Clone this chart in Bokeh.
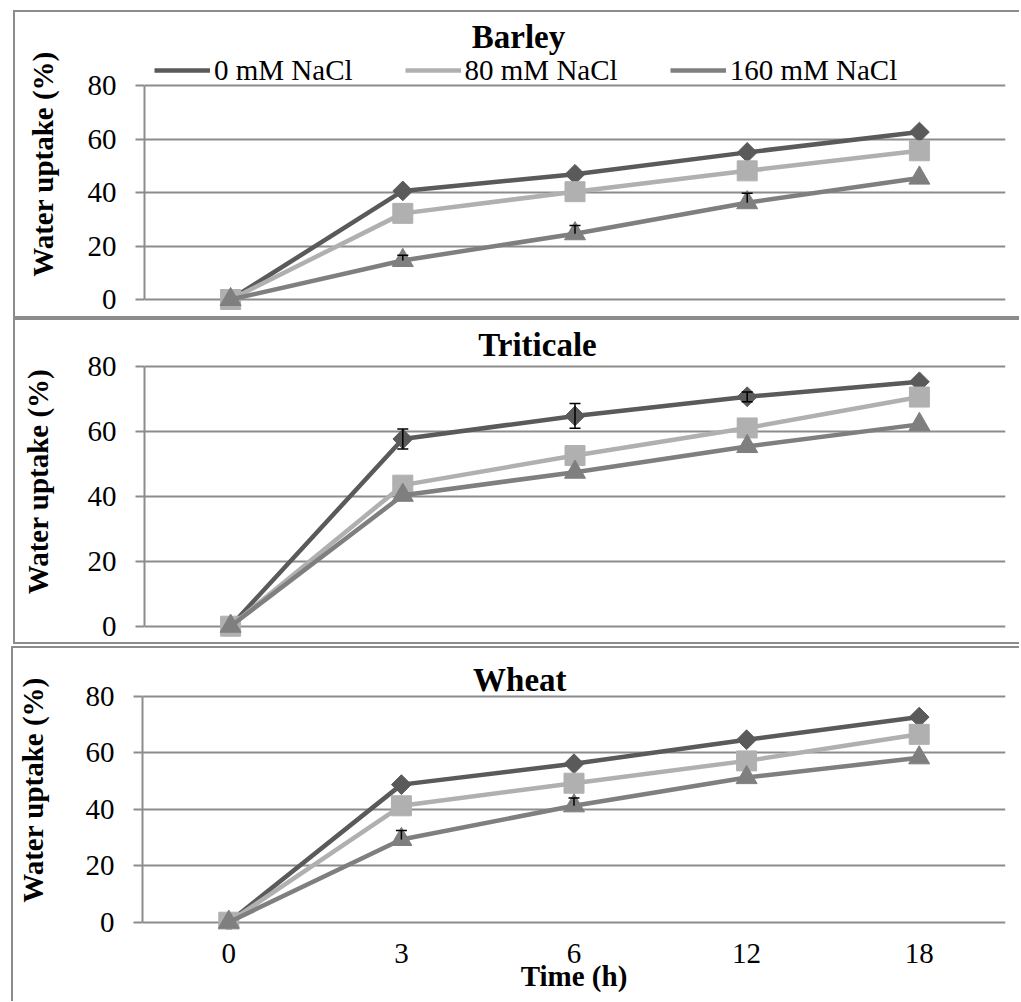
import numpy as np
from bokeh.plotting import figure
from bokeh.models import (Range1d, FixedTicker, Legend, LegendItem, Label,
                          ColumnDataSource, Whisker, TeeHead)
from bokeh.layouts import column
from bokeh.embed import file_html
from bokeh.resources import INLINE

# ---------------- data ----------------
times = ["0", "3", "6", "12", "18"]
series_names = ["0 mM NaCl", "80 mM NaCl", "160 mM NaCl"]

barley_0 = [0, 40.6, 46.8, 55.0, 62.6]
barley_80 = [0, 32.2, 40.3, 48.1, 55.6]
barley_160 = [0, 14.6, 24.6, 36.2, 45.4]
barley_err160 = [0, 1.9, 3.1, 3.5, 0]

triticale_0 = [0, 57.6, 64.7, 70.6, 75.2]
triticale_80 = [0, 43.4, 52.5, 61.0, 70.5]
triticale_160 = [0, 40.3, 47.4, 55.3, 62.1]
triticale_err0 = [0, 3.1, 3.8, 1.5, 0]

wheat_0 = [0, 48.7, 56.1, 64.6, 72.6]
wheat_80 = [0, 41.2, 49.2, 57.1, 66.5]
wheat_160 = [0, 29.3, 41.2, 51.2, 58.2]
wheat_err160 = [0, 3.2, 2.8, 0, 0]

y_ticks = [0, 20, 40, 60, 80]

# ---------------- style ----------------
FONT = "Liberation Serif"
COLORS = ["#5a5a5a", "#b0b0b0", "#7f7f7f"]
GRID = "#8c8c8c"
x_idx = list(range(len(times)))
DX, DY = 10, 8   # page offset correction


def make_panel(name, vals, err_series, err_vals, both_heads, spec, legend=False, xaxis=False):
    fw, fh = spec["w"], spec["h"]
    fl, fr = spec["frame_l"], spec["frame_r"]
    ft, fb = spec["frame_t"], spec["frame_b"]
    y80, y0 = spec["y80"], spec["y0"]
    ppu = (y0 - y80) / 80.0
    ylo = -(fb - y0) / ppu
    yhi = 80 + (y80 - ft) / ppu
    pcat = (fr - fl) / len(times)

    def dx(px):
        return -0.5 + (px - fl) / pcat

    def dy(py):
        return (y0 - py) / ppu

    left_css = spec["left"]
    shadow = "inset 2px 2px 0 0 %s" % GRID
    if spec.get("bottom_border", True):
        shadow += ", inset 0 -2px 0 0 %s" % GRID
    mt, mr_, mb, ml = spec["margin"]

    p = figure(width=fw, height=fh,
               x_range=Range1d(-0.5, len(times) - 0.5),
               y_range=Range1d(ylo, yhi),
               output_backend="svg", toolbar_location=None,
               min_border_left=fl - left_css, min_border_right=left_css + fw - fr,
               min_border_top=ft - spec["top"], min_border_bottom=spec["top"] + fh - fb,
               x_axis_location="below" if xaxis else None,
               border_fill_color=None, background_fill_color=None,
               outline_line_color=None, margin=(mt, mr_, mb, ml),
               styles={"box-shadow": shadow})

    # y axis
    ax = p.yaxis[0]
    ax.ticker = FixedTicker(ticks=y_ticks)
    ax.bounds = (0, 80)
    ax.axis_line_color = GRID
    ax.axis_line_width = 2
    ax.major_tick_line_color = GRID
    ax.major_tick_line_width = 2
    ax.major_tick_out = 9
    ax.major_tick_in = 0
    ax.minor_tick_line_color = None
    ax.major_label_text_font = FONT
    ax.major_label_text_font_size = "29px"
    ax.major_label_text_color = "black"
    ax.major_label_standoff = 19
    ax.axis_label = "Water uptake (%)"
    ax.axis_label_text_font = FONT
    ax.axis_label_text_font_size = "29px"
    ax.axis_label_text_font_style = "bold"
    ax.axis_label_text_color = "black"
    ax.axis_label_standoff = spec["label_standoff"]

    p.ygrid.ticker = FixedTicker(ticks=y_ticks)
    p.ygrid.grid_line_color = GRID
    p.ygrid.grid_line_width = 2
    p.xgrid.visible = False

    if xaxis:
        xa = p.xaxis[0]
        xa.ticker = FixedTicker(ticks=x_idx)
        xa.major_label_overrides = {i: t for i, t in enumerate(times)}
        xa.axis_line_color = None
        xa.major_tick_line_color = None
        xa.minor_tick_line_color = None
        xa.major_tick_out = 0
        xa.major_tick_in = 0
        xa.major_label_standoff = 14
        xa.major_label_text_font = FONT
        xa.major_label_text_font_size = "29px"
        xa.major_label_text_color = "black"
        xa.axis_label = "Time (h)"
        xa.axis_label_text_font = FONT
        xa.axis_label_text_font_size = "29px"
        xa.axis_label_text_font_style = "bold"
        xa.axis_label_text_color = "black"
        xa.axis_label_standoff = -6

    markers = [("square", 14, np.pi / 4), ("square", 20, 0), ("triangle", 21, 0)]
    legend_markers = ["diamond", "square", "triangle"]
    items = []
    for i, v in enumerate(vals):
        src = ColumnDataSource(dict(x=x_idx, y=v))
        lr = p.line("x", "y", source=src, line_color=COLORS[i], line_width=4.5)
        mk, sz, ang = markers[i]
        p.scatter("x", "y", source=src, marker=mk, size=sz, angle=ang,
                  fill_color=COLORS[i], line_color=COLORS[i], line_width=1)
        # legend-only marker (legend ignores marker angle)
        lsrc = ColumnDataSource(dict(x=[], y=[]))
        lm = p.scatter("x", "y", source=lsrc, marker=legend_markers[i], size=10,
                       fill_color=COLORS[i], line_color=COLORS[i], line_width=1)
        items.append(LegendItem(label=series_names[i], renderers=[lr, lm]))

    # error bars
    yv = vals[err_series]
    ex = [x for x, e in zip(x_idx, err_vals) if e > 0]
    up = [y + e for y, e in zip(yv, err_vals) if e > 0]
    if both_heads:
        lo = [y - e for y, e in zip(yv, err_vals) if e > 0]
    else:
        lo = [y for y, e in zip(yv, err_vals) if e > 0]
    esrc = ColumnDataSource(dict(x=ex, upper=up, lower=lo))
    w = Whisker(base="x", upper="upper", lower="lower", source=esrc, dimension="height",
                line_color="black", line_width=1.5, level="overlay",
                upper_head=TeeHead(size=11, line_color="black", line_width=1.5),
                lower_head=TeeHead(size=11, line_color="black", line_width=1.5) if both_heads else None)
    p.add_layout(w)

    # panel title
    tx, tbase = spec["title_pos"]
    p.add_layout(Label(x=dx(tx), y=dy(tbase), text=name, text_font=FONT,
                       text_font_size="33px", text_font_style="bold",
                       text_align="center", text_baseline="alphabetic",
                       text_color="black"))

    if legend:
        lg = Legend(items=items, location=(spec["legend_x"], spec["legend_y"]),
                    orientation="horizontal", glyph_width=56, glyph_height=44,
                    label_standoff=4, spacing=52, padding=0, margin=0,
                    border_line_color=None, background_fill_alpha=0,
                    label_text_font=FONT, label_text_font_size="29px",
                    label_text_color="black")
        p.add_layout(lg)
    return p


spec1 = dict(left=11, top=10, w=1006, h=308, frame_l=142, frame_r=1003,
             frame_t=14, frame_b=313, y80=85, y0=299, margin=(2 + DY, 0, 0, 3 + DX),
             label_standoff=26, title_pos=(516, 36.7), legend_x=10, legend_y=221)
spec2 = dict(left=11, top=318, w=1006, h=326, frame_l=133, frame_r=1005,
             frame_t=322, frame_b=640, y80=365.7, y0=625.7, margin=(0, 0, 0, 3 + DX),
             label_standoff=31, title_pos=(531, 344))
spec3 = dict(left=9, top=646, w=1008, h=355, frame_l=131, frame_r=1007,
             frame_t=650, frame_b=929, y80=695.7, y0=921.7, margin=(2, 0, 0, 1 + DX),
             label_standoff=34, title_pos=(514, 679), bottom_border=False)

p1 = make_panel("Barley", [barley_0, barley_80, barley_160], 2, barley_err160, False,
                spec1, legend=True)
p2 = make_panel("Triticale", [triticale_0, triticale_80, triticale_160], 0, triticale_err0, True,
                spec2)
p3 = make_panel("Wheat", [wheat_0, wheat_80, wheat_160], 2, wheat_err160, False,
                spec3, xaxis=True)

layout = column(p1, p2, p3, spacing=0)
open("out.html", "w").write(file_html(layout, INLINE))
